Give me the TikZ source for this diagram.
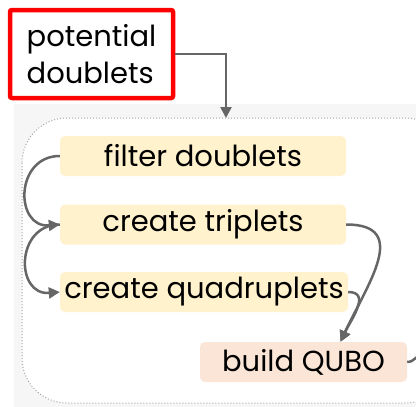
\documentclass[tikz,border=0pt]{standalone}
\usepackage{fontspec}
\setmainfont{Poppins}
\usetikzlibrary{positioning, calc, arrows.meta}
\definecolor{giallino}{HTML}{FFF2CC}
\definecolor{pesca}{HTML}{FBE5D6}
\definecolor{grigio}{HTML}{666666}
\definecolor{sfondo}{HTML}{F6F6F6}
\definecolor{rosso}{HTML}{FF0000}

\begin{document}
\begin{tikzpicture}[x=1pt,y=-1pt,
        passo/.style={fill=giallino, rounded corners=5pt, minimum height=40pt, inner sep=0pt, font=\fontsize{29}{32}\selectfont},
        freccia/.style={draw=grigio, line width=2.5pt, -{Triangle[length=11pt,width=11pt]}}]
        \useasboundingbox (0,0) rectangle (416,407);
        %sfondo grigio
        \fill[sfondo] (14,104) rectangle (416,407);
        %riquadro puntinato
        \draw[grigio!60, fill=white, dotted, line width=1pt, rounded corners=45pt] (22,118) rectangle (450,403);
        %box doppietti
        \node[draw=rosso, line width=4.5pt, rounded corners=2pt, fill=white, minimum width=163pt, minimum height=88pt, align=left, font=\fontsize{29}{37}\selectfont] (doppietti) at (91.5,54) {potential\\doublets};
        \coordinate (ingresso) at (226,118);
        %passi
        \node[passo, minimum width=286pt] (filtro) at (203,156) {filter doublets};
        \node[passo, minimum width=286pt] (terne) at (203,224.5) {create triplets};
        \node[passo, minimum width=288pt] (quaterne) at (204,292) {create quadruplets};
        \node[passo, fill=pesca, minimum width=207pt] (qubo) at (303.5,362) {build QUBO};
        \coordinate (uscita) at (424,352);
        %frecce
        \draw[freccia] (doppietti.east) -| (ingresso);
        \draw[freccia] (filtro.west) to[out=180,in=185,looseness=1.7] (terne.west);
        \draw[freccia] (terne.west) to[out=180,in=185,looseness=1.7] (quaterne.west);
        \draw[freccia] (terne.east) to[out=0,in=65,looseness=1.4] ([xshift=37pt]qubo.north);
        \draw[freccia] (quaterne.east) to[out=0,in=65,looseness=1.2] ([xshift=37pt]qubo.north);
        \draw[grigio, line width=2.5pt] (qubo.east) to[out=0,in=200] (uscita);
\end{tikzpicture}
\end{document}
